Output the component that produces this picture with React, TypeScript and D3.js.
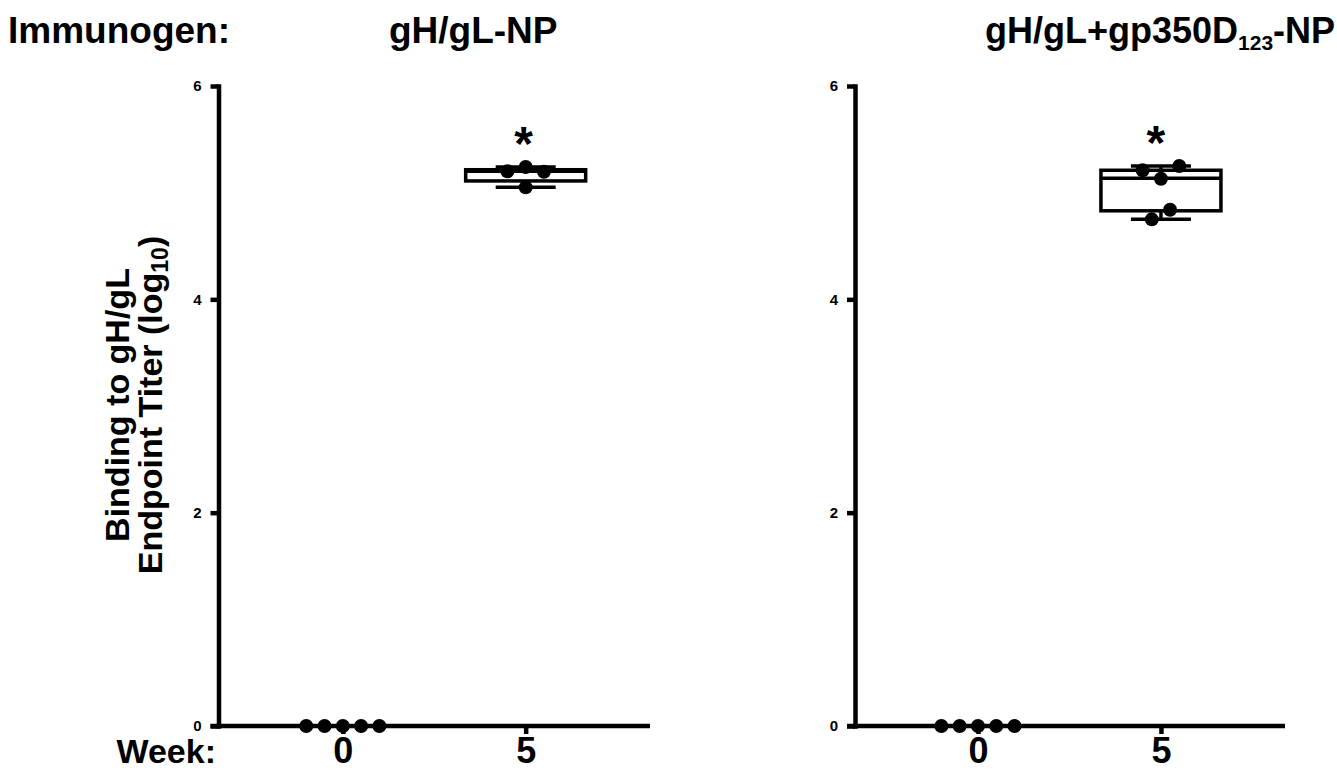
import React, { useEffect, useRef } from "react";
import * as d3 from "d3";

// x positions (weeks) and y ticks
const weeks = [0, 5];
const yTicks = [0, 2, 4, 6];

// week 0: all five animals at the floor
const week0Values = [0, 0, 0, 0, 0];
const week0Jitter = [-1, -0.5, 0, 0.5, 1];

// gH/gL-NP, week 5
const npWeek5Values = [5.2, 5.24, 5.195, 5.05];
const npWeek5Jitter = [-0.5, 0, 0.5, 0];
const npWeek5Box = [5.05, 5.11, 5.2, 5.215, 5.24]; // min, q1, median, q3, max

// gH/gL+gp350D123-NP, week 5
const comboWeek5Values = [5.21, 5.25, 5.13, 4.84, 4.75];
const comboWeek5Jitter = [-0.5, 0.5, 0, 0.25, -0.25];
const comboWeek5Box = [4.75, 4.83, 5.135, 5.21, 5.25];

const FONT = "'Liberation Sans', Arial, Helvetica, sans-serif";

const panels = [
  {
    left: 218.5,
    right: 650,
    domain: [-3.4, 8.4],
    values: npWeek5Values,
    jitter: npWeek5Jitter,
    box: npWeek5Box,
    starDx: -2,
  },
  {
    left: 855,
    right: 1285,
    domain: [-3.36, 8.39],
    values: comboWeek5Values,
    jitter: comboWeek5Jitter,
    box: comboWeek5Box,
    starDx: -5,
  },
];

const App = () => {
  const ref = useRef(null);
  const width = 1337;
  const height = 776;

  useEffect(() => {
    const svg = d3.select(ref.current);
    svg.selectAll(".plot").remove();

    const y = d3.scaleLinear().domain([0, 6]).range([726, 86]);

    panels.forEach((p) => {
      const g = svg.append("g").attr("class", "plot");
      const x = d3.scaleLinear().domain(p.domain).range([p.left, p.right]);

      // y axis
      const ya = g
        .append("g")
        .attr("transform", `translate(${p.left},0)`)
        .call(
          d3
            .axisLeft(y)
            .tickValues(yTicks)
            .tickSize(8)
            .tickSizeOuter(0)
            .tickPadding(9)
            .tickFormat(d3.format("d"))
        );
      ya.select(".domain")
        .attr("stroke", "black")
        .attr("stroke-width", 4.5)
        .attr("stroke-linecap", "square");
      ya.selectAll(".tick line").attr("stroke", "black").attr("stroke-width", 4.5);
      ya.selectAll(".tick text")
        .attr("fill", "black")
        .style("font-family", FONT)
        .style("font-weight", "bold")
        .style("font-size", "15px");

      // x axis
      const xa = g
        .append("g")
        .attr("transform", `translate(0,${y(0)})`)
        .call(
          d3
            .axisBottom(x)
            .tickValues(weeks)
            .tickSize(8)
            .tickSizeOuter(0)
            .tickPadding(3)
            .tickFormat(d3.format("d"))
        );
      xa.select(".domain")
        .attr("d", `M${p.left - 8},0H${p.right}`)
        .attr("stroke", "black")
        .attr("stroke-width", 4.5);
      xa.selectAll(".tick line").attr("stroke", "black").attr("stroke-width", 4.5);
      xa.selectAll(".tick text")
        .attr("fill", "black")
        .style("font-family", FONT)
        .style("font-weight", "bold")
        .style("font-size", "36px");

      // box and whiskers at week 5
      const [mn, q1, med, q3, mx] = p.box;
      const cx = x(5);
      const bw = 60;
      const cap = 30;
      const box = g
        .append("g")
        .attr("stroke", "black")
        .attr("stroke-width", 3.5)
        .attr("fill", "none");
      box
        .append("rect")
        .attr("x", cx - bw)
        .attr("width", bw * 2)
        .attr("y", y(q3))
        .attr("height", y(q1) - y(q3))
        .attr("fill", "white");
      box
        .append("line")
        .attr("x1", cx - bw)
        .attr("x2", cx + bw)
        .attr("y1", y(med))
        .attr("y2", y(med));
      box
        .append("line")
        .attr("x1", cx)
        .attr("x2", cx)
        .attr("y1", y(q3))
        .attr("y2", y(mx));
      box
        .append("line")
        .attr("x1", cx)
        .attr("x2", cx)
        .attr("y1", y(q1))
        .attr("y2", y(mn));
      box
        .selectAll(".cap")
        .data([mn, mx])
        .enter()
        .append("line")
        .attr("x1", cx - cap)
        .attr("x2", cx + cap)
        .attr("y1", (d) => y(d))
        .attr("y2", (d) => y(d));

      // points
      g.append("g")
        .selectAll("circle.w0")
        .data(week0Values)
        .enter()
        .append("circle")
        .attr("cx", (d, i) => x(0 + week0Jitter[i]))
        .attr("cy", (d) => y(d))
        .attr("r", 7)
        .attr("fill", "black");
      g.append("g")
        .selectAll("circle.w5")
        .data(p.values)
        .enter()
        .append("circle")
        .attr("cx", (d, i) => x(5 + p.jitter[i]))
        .attr("cy", (d) => y(d))
        .attr("r", 7)
        .attr("fill", "black");

      // significance star
      g.append("text")
        .attr("x", cx + p.starDx)
        .attr("y", y(mx) - 7)
        .attr("text-anchor", "middle")
        .style("font-family", FONT)
        .style("font-weight", "bold")
        .style("font-size", "48px")
        .text("*");
    });
  }, []);

  return (
    <svg
      ref={ref}
      width={width}
      height={height}
      style={{ position: "absolute", left: 0, top: 0, background: "white" }}
      fontFamily={FONT}
      fontWeight="bold"
    >
      <text x={8} y={43} fontSize={37}>
        Immunogen:
      </text>
      <text x={389} y={43} fontSize={37}>
        gH/gL-NP
      </text>
      <text x={985} y={43} fontSize={36}>
        gH/gL+gp350D
        <tspan fontSize={21} dy={7}>
          123
        </tspan>
        <tspan dy={-7}>-NP</tspan>
      </text>
      <text x={216} y={763} fontSize={34} textAnchor="end">
        Week:
      </text>
      <g transform="translate(0,405) rotate(-90)">
        <text x={0} y={129} fontSize={34} textAnchor="middle">
          Binding to gH/gL
        </text>
        <text x={0} y={162} fontSize={34} textAnchor="middle">
          Endpoint Titer (log
          <tspan fontSize={23} dy={6}>
            10
          </tspan>
          <tspan dy={-6}>)</tspan>
        </text>
      </g>
    </svg>
  );
};

export default App;
